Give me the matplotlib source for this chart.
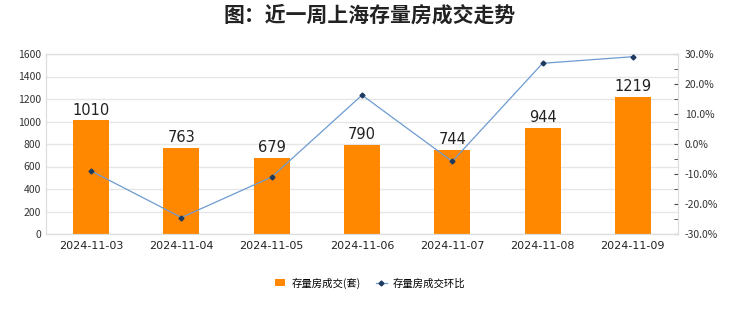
import matplotlib.pyplot as plt
from matplotlib.ticker import MultipleLocator, FuncFormatter

plt.rcParams['font.family'] = ['Noto Sans CJK SC', 'DejaVu Sans']

dates = ['2024-11-03', '2024-11-04', '2024-11-05', '2024-11-06',
         '2024-11-07', '2024-11-08', '2024-11-09']
volume = [1010, 763, 679, 790, 744, 944, 1219]
mom = [-9.0, -24.5, -11.0, 16.3, -5.8, 26.9, 29.1]

fig = plt.figure(figsize=(7.4, 3.12), dpi=100)
ax = fig.add_axes([46 / 740, 1 - 234 / 312, 632 / 740, 180 / 312])
ax2 = ax.twinx()

x = range(len(dates))
ax.bar(x, volume, width=0.4, color='#FF8800', zorder=2, label='存量房成交(套)')
for i, v in enumerate(volume):
    ax.text(i, v + 25, str(v), ha='center', va='bottom', fontsize=10.5,
            color='#222222', family='DejaVu Sans')

ax.set_ylim(0, 1600)
ax.set_xlim(-0.5, len(dates) - 0.5)
ax.yaxis.set_major_locator(MultipleLocator(200))
ax.set_xticks(list(x))
ax.set_xticklabels(dates, family='DejaVu Sans')
ax.grid(axis='y', color='#e6e6e6', linewidth=1, zorder=0)
ax.tick_params(axis='y', length=0, labelsize=7.5, colors='#333333')
ax.tick_params(axis='x', length=0, labelsize=8, colors='#222222', pad=5)
for s in ax.spines.values():
    s.set_color('#dddddd')

ax2.plot(list(x), mom, color='#6d9bd1', linewidth=0.9, marker='D', markersize=2.5,
         markerfacecolor='#1f3a5f', markeredgecolor='#1f3a5f', zorder=3, label='存量房成交环比')
ax2.set_ylim(-30, 30)
ax2.yaxis.set_major_locator(MultipleLocator(10))
ax2.yaxis.set_minor_locator(MultipleLocator(5))
ax2.yaxis.set_major_formatter(FuncFormatter(lambda v, p: '%.1f%%' % v if v != 0 else '0.0%'))
ax2.tick_params(axis='y', which='both', direction='in', length=3, color='#444444',
                labelsize=7.5, labelcolor='#333333', pad=5)
for s in ax2.spines.values():
    s.set_color('#dddddd')

fig.text(0.5, 1 - 15 / 312, '图：近一周上海存量房成交走势', ha='center', va='center',
         fontsize=15, fontweight='bold', color='#222222')

h1, l1 = ax.get_legend_handles_labels()
h2, l2 = ax2.get_legend_handles_labels()
fig.legend(h1 + h2, l1 + l2, loc='center', bbox_to_anchor=(0.5, 1 - 283 / 312), ncol=2,
           frameon=False, fontsize=7.5, handlelength=1.0, handleheight=0.6, columnspacing=1.5,
           handletextpad=0.6, borderpad=0.2)

fig.savefig('out.png', dpi=100)
